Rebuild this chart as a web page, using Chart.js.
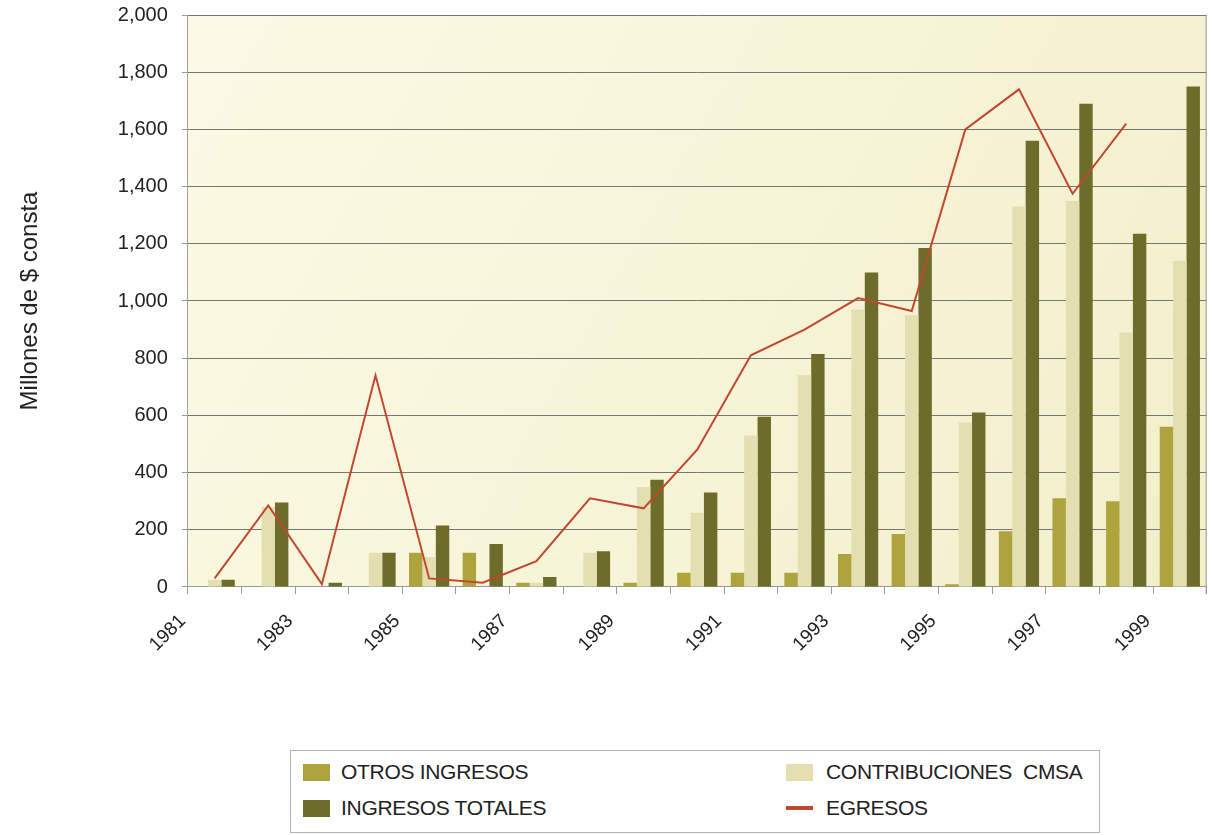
<!DOCTYPE html>
<html lang="es">
<head>
<meta charset="utf-8">
<title>Ingresos y egresos</title>
<script src="https://cdn.jsdelivr.net/npm/chart.js@4.4.1/dist/chart.umd.min.js"></script>
<style>
  html, body { margin: 0; padding: 0; background: #fff; }
  .c-wrap { position: relative; width: 1212px; height: 835px; }
  #grafico { display: block; }
  .c-legend {
    position: absolute; left: 290px; top: 750px; width: 810px; height: 83px;
    box-sizing: border-box; border: 1px solid #b4b4b4; background: #fff;
    font-family: 'Liberation Sans', Arial, sans-serif; font-size: 21px; color: #222;
    letter-spacing: -0.3px;
  }
  .c-legend__item { position: absolute; display: flex; align-items: center; height: 22px; white-space: pre; }
  .c-legend__swatch { width: 27px; height: 17px; margin-right: 11px; }
  .c-legend__swatch--line { height: 4px; }
</style>
</head>
<body>
<div class="c-wrap">
  <canvas id="grafico" width="1212" height="835"></canvas>
  <div class="c-legend" id="leyenda"></div>
</div>
<script>
const years = ['1981', '1982', '1983', '1984', '1985', '1986', '1987', '1988', '1989', '1990',
  '1991', '1992', '1993', '1994', '1995', '1996', '1997', '1998', '1999'];
const otrosIngresos = [0, 0, 0, 0, 120, 120, 15, 0, 15, 50, 50, 50, 115, 185, 10, 195, 310, 300, 560];
const contribucionesCmsa = [25, 280, 0, 120, 105, 0, 15, 120, 350, 260, 530, 740, 970, 950, 575, 1330, 1350, 890, 1140];
const ingresosTotales = [25, 295, 15, 120, 215, 150, 35, 125, 375, 330, 595, 815, 1100, 1185, 610, 1560, 1690, 1235, 1750];
const egresos = [30, 285, 10, 740, 30, 15, 90, 310, 275, 480, 810, 900, 1010, 965, 1600, 1740, 1375, 1620, null];

const colors = {
  otros: '#aea43d',
  contrib: '#e3dfb1',
  totales: '#6d6c2b',
  egresos: '#c1472f',
};
const fontFamily = "'Liberation Sans', Arial, sans-serif";

// plot background + right border
const plotArea = {
  id: 'plotArea',
  beforeDraw(chart) {
    const { ctx, chartArea: { left, top, right, bottom } } = chart;
    ctx.save();
    const grad = ctx.createLinearGradient(left, top, right, bottom);
    grad.addColorStop(0, '#fcfae5');
    grad.addColorStop(1, '#f2efcb');
    ctx.fillStyle = grad;
    ctx.fillRect(left, top, right - left, bottom - top);
    ctx.restore();
  },
  afterDraw(chart) {
    const { ctx, chartArea: { top, right, bottom } } = chart;
    ctx.save();
    ctx.strokeStyle = '#9a9a9a';
    ctx.lineWidth = 1;
    ctx.beginPath();
    ctx.moveTo(right - 0.5, top);
    ctx.lineTo(right - 0.5, bottom + 7);
    ctx.stroke();
    ctx.restore();
  },
};

const makeLegend = function (chart) {
  const box = document.getElementById('leyenda');
  const spots = [[12, 10], [495, 10], [12, 46], [495, 46]];
  chart.data.datasets.forEach(function (ds, i) {
    const item = document.createElement('div');
    item.className = 'c-legend__item';
    item.style.left = spots[i][0] + 'px';
    item.style.top = spots[i][1] + 'px';
    const sw = document.createElement('span');
    sw.className = 'c-legend__swatch' + (ds.type === 'line' ? ' c-legend__swatch--line' : '');
    sw.style.background = ds.type === 'line' ? ds.borderColor : ds.backgroundColor;
    if (i % 2 === 1) sw.style.marginRight = '13px';
    const txt = document.createElement('span');
    txt.textContent = ds.label;
    item.appendChild(sw);
    item.appendChild(txt);
    box.appendChild(item);
  });
};

const makeChart = function () {
  const data = {
    labels: years,
    datasets: [
      { type: 'bar', label: 'OTROS INGRESOS', data: otrosIngresos, backgroundColor: colors.otros, order: 1 },
      { type: 'bar', label: 'CONTRIBUCIONES  CMSA', data: contribucionesCmsa, backgroundColor: colors.contrib, order: 1 },
      { type: 'bar', label: 'INGRESOS TOTALES', data: ingresosTotales, backgroundColor: colors.totales, order: 1 },
      {
        type: 'line', label: 'EGRESOS', data: egresos, borderColor: colors.egresos, backgroundColor: colors.egresos,
        borderWidth: 2, pointRadius: 0, tension: 0, order: 0,
      },
    ],
  };

  const config = {
    data,
    options: {
      responsive: false,
      animation: false,
      datasets: { bar: { barPercentage: 1.0, categoryPercentage: 0.75 } },
      layout: { padding: { left: 16, right: 2, top: 0, bottom: 163 } },
      plugins: { legend: { display: false }, tooltip: { enabled: false } },
      scales: {
        x: {
          grid: { drawOnChartArea: false, drawTicks: true, tickLength: 7, color: '#9a9a9a', offset: true },
          border: { color: '#9a9a9a' },
          ticks: {
            autoSkip: false,
            minRotation: 45,
            maxRotation: 45,
            labelOffset: -32,
            padding: 16,
            color: '#222',
            font: { family: fontFamily, size: 19 },
            callback: function (val, idx) { return idx % 2 === 0 ? years[idx] : ''; },
          },
        },
        y: {
          min: 0,
          max: 2000,
          afterFit: function (scale) {
            // keep the top gridline close to the canvas edge
            scale.paddingTop = 15;
          },
          ticks: {
            stepSize: 200,
            padding: 14,
            color: '#222',
            font: { family: fontFamily, size: 20 },
            callback: function (v) { return v.toLocaleString('en-US'); },
          },
          grid: { color: '#767676', tickLength: 6, tickColor: '#9a9a9a' },
          border: { color: '#a0a0a0' },
          title: {
            display: true,
            text: 'Millones de $ consta',
            color: '#222',
            font: { family: fontFamily, size: 24 },
            padding: { top: 0, bottom: 59 },
          },
        },
      },
    },
    plugins: [plotArea],
  };

  const chart = new Chart(document.getElementById('grafico'), config);
  makeLegend(chart);
};

document.addEventListener('DOMContentLoaded', makeChart);
</script>
</body>
</html>
